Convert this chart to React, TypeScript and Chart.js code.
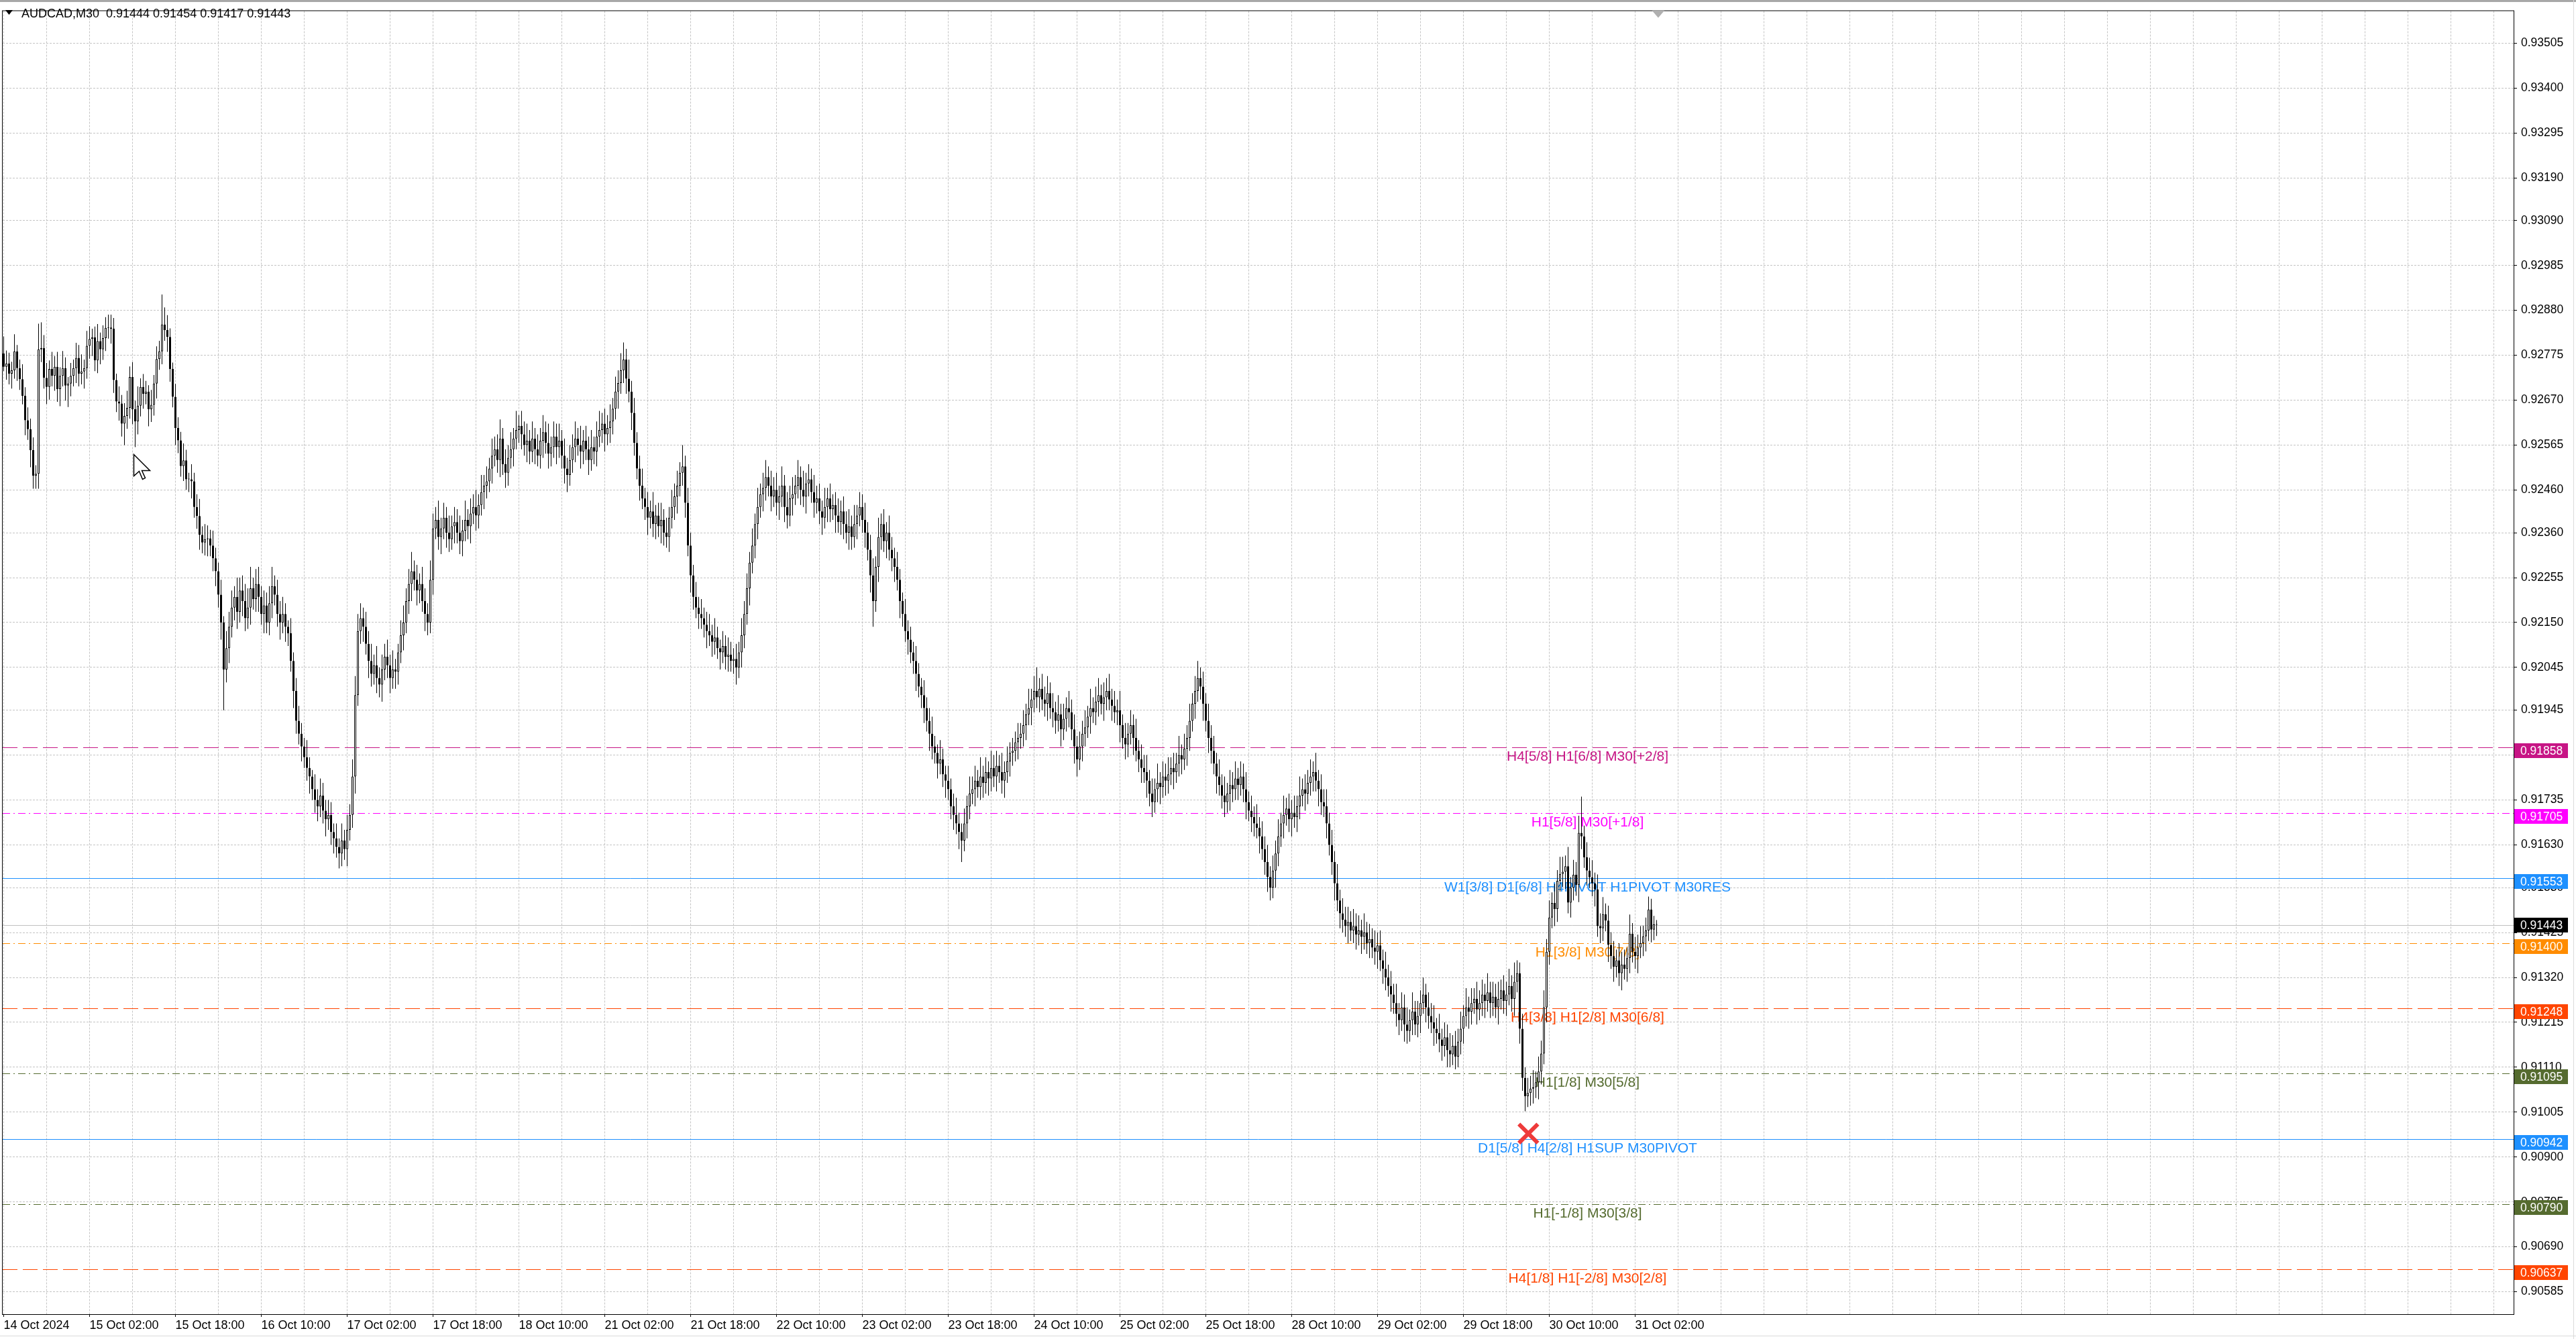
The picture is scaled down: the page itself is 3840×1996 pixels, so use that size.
import React, { useEffect, useRef } from 'react';
import { Chart, registerables } from 'chart.js';

Chart.register(...registerables);

// ---------------- data ----------------
const SYMBOL_LABEL = 'AUDCAD,M30';
// prices are stored as codes: price = 0.9 + code * 0.00001
const PRICE_BASE = 0.9;
const CODE_UNIT = 0.00001;
const PIP = 0.0001;
const firstOpenCode = 2779;

const closeCodes = [
  2748, 2756, 2732, 2740, 2784, 2745, 2719, 2680, 2623, 2602,
  2553, 2493, 2498, 2789, 2792, 2722, 2701, 2743, 2727, 2748,
  2696, 2727, 2745, 2704, 2709, 2727, 2745, 2769, 2732, 2737,
  2745, 2797, 2813, 2817, 2763, 2808, 2789, 2815, 2839, 2840,
  2837, 2717, 2667, 2662, 2615, 2633, 2652, 2724, 2649, 2620,
  2657, 2701, 2685, 2690, 2649, 2659, 2709, 2766, 2784, 2847,
  2834, 2818, 2743, 2678, 2605, 2576, 2516, 2529, 2485, 2485,
  2480, 2420, 2399, 2355, 2337, 2345, 2347, 2330, 2300, 2270,
  2215, 2150, 2040, 2090, 2140, 2185, 2210, 2175, 2225, 2200,
  2160, 2185, 2230, 2205, 2240, 2210, 2170, 2190, 2150, 2195,
  2235, 2215, 2170, 2150, 2170, 2140, 2125, 2060, 1990, 1920,
  1890, 1860, 1835, 1810, 1790, 1760, 1735, 1720, 1745, 1710,
  1690, 1700, 1660, 1645, 1625, 1610, 1640, 1620, 1665, 1700,
  1790, 1980, 2130, 2160, 2140, 2100, 2060, 2030, 2050, 2020,
  2005, 2040, 2070, 2050, 2020, 2040, 2035, 2080, 2120, 2150,
  2200, 2240, 2270, 2250, 2225, 2240, 2200, 2170, 2150, 2250,
  2370, 2390, 2350, 2370, 2395, 2360, 2345, 2375, 2385, 2360,
  2340, 2365, 2390, 2375, 2405, 2420, 2400, 2425, 2455, 2470,
  2480, 2510, 2540, 2555, 2530, 2580, 2520, 2500, 2535, 2555,
  2580, 2600, 2610, 2590, 2565, 2575, 2550, 2580, 2555, 2540,
  2575, 2595, 2570, 2545, 2560, 2585, 2560, 2575, 2540, 2510,
  2495, 2530, 2560, 2580, 2565, 2550, 2575, 2555, 2530, 2560,
  2550, 2585, 2600, 2615, 2590, 2605, 2620, 2650, 2690, 2710,
  2740, 2765, 2720, 2690, 2640, 2570, 2510, 2470, 2440, 2420,
  2395, 2410, 2380, 2400, 2375, 2390, 2360, 2350, 2395, 2420,
  2445, 2470, 2500, 2515, 2430, 2330, 2260, 2210, 2185, 2170,
  2160, 2145, 2130, 2120, 2105, 2115, 2090, 2080, 2095, 2070,
  2075, 2060, 2065, 2045, 2080, 2120, 2170, 2230, 2290, 2330,
  2380, 2420, 2450, 2465, 2490, 2470, 2445, 2460, 2430, 2445,
  2470, 2420, 2400, 2440, 2450, 2470, 2490, 2460, 2445, 2475,
  2485, 2455, 2430, 2440, 2410, 2395, 2420, 2440, 2415, 2425,
  2400, 2385, 2410, 2380, 2360, 2375, 2350, 2380, 2400, 2420,
  2390, 2360, 2320, 2260, 2200, 2280, 2350, 2380, 2340, 2360,
  2320, 2300, 2280, 2250, 2200, 2170, 2130, 2110, 2080, 2060,
  2030, 2000, 1980, 1950, 1920, 1890, 1860, 1845, 1820, 1830,
  1795, 1780, 1760, 1720, 1700, 1680, 1660, 1640, 1680, 1720,
  1750, 1760, 1780, 1765, 1790, 1775, 1800, 1785, 1810, 1790,
  1815, 1800, 1780, 1800, 1825, 1845, 1850, 1870, 1880, 1890,
  1910, 1935, 1950, 1970, 1990, 1975, 1995, 1970, 1960, 1985,
  1950, 1940, 1920, 1935, 1900, 1925, 1950, 1940, 1900, 1860,
  1830, 1860, 1890, 1905, 1930, 1950, 1940, 1965, 1980, 1960,
  1975, 1990, 1970, 1955, 1940, 1945, 1910, 1880, 1865, 1890,
  1910, 1880, 1850, 1830, 1810, 1800, 1780, 1750, 1730, 1760,
  1775, 1765, 1790, 1780, 1795, 1810, 1800, 1820, 1840, 1830,
  1855, 1880, 1920, 1960, 1990, 2020, 2000, 1960, 1920, 1880,
  1850, 1820, 1790, 1770, 1745, 1730, 1750, 1770, 1760, 1785,
  1770, 1790, 1760, 1730, 1710, 1695, 1680, 1670, 1650, 1620,
  1590, 1555, 1530, 1570, 1610, 1650, 1680, 1700, 1715, 1690,
  1705, 1695, 1720, 1745, 1760, 1750, 1775, 1790, 1800, 1780,
  1760, 1730, 1720, 1680, 1630, 1590, 1540, 1500, 1470, 1455,
  1440, 1450, 1430, 1440, 1420, 1430, 1415, 1425, 1400, 1410,
  1390, 1380, 1395, 1360, 1340, 1320, 1300, 1280, 1260, 1235,
  1220, 1250, 1210, 1195, 1220, 1240, 1210, 1230, 1260, 1280,
  1250, 1230, 1215, 1200, 1190, 1175, 1160, 1180, 1150, 1140,
  1160, 1135, 1170, 1200, 1230, 1250, 1240, 1260, 1270, 1245,
  1260, 1280, 1265, 1285, 1260, 1275, 1250, 1270, 1290, 1265,
  1280, 1300, 1270, 1310, 1330, 1200, 1085, 1042, 1050, 1060,
  1063, 1075, 1100, 1142, 1250, 1380, 1460, 1494, 1480, 1546,
  1562, 1567, 1580, 1495, 1530, 1560, 1536, 1658, 1650, 1601,
  1570, 1554, 1540, 1526, 1440, 1435, 1468, 1453, 1396, 1370,
  1345, 1360, 1330, 1350, 1340, 1365, 1422, 1380, 1370, 1390,
  1400, 1416, 1430, 1479, 1432, 1444, 1443,
];

// upper / lower shadow length beyond the body, in pips
const wickUpPips = [
  4, 3, 2.5, 2, 4, 1.5, 2, 3.5, 2, 3, 2.5, 3, 2, 6, 6, 3, 3.5, 2, 4, 2.5,
  3.5, 2, 4, 2.5, 1.5, 3, 2, 3.5, 3, 4, 2, 3.5, 3, 2, 2.5, 4, 2, 3, 2.5, 3,
  3, 2.5, 1.5, 3.5, 2, 3, 4, 2.5, 3.5, 2, 4.5, 2, 3, 2.5, 1.5, 3.5, 2, 3, 2.5, 7,
  4, 3.5, 2, 1.5, 3, 2.5, 2, 4, 2.5, 1.5, 3.5, 2, 3, 4, 2, 3.5, 3, 2, 3.5, 2.5,
  2, 3.5, 1.5, 4, 3.5, 4, 2.5, 4.5, 3, 3.5, 4, 4.5, 5, 2.5, 3.5, 4, 2.5, 3.5, 3, 4,
  4.5, 2.5, 3.5, 3, 4, 2.5, 1.5, 3.5, 2, 3, 3.5, 2.5, 2, 4, 2.5, 1.5, 3.5, 2.5, 4, 3,
  2.5, 3.5, 3, 2, 3.5, 2, 4, 2.5, 3.5, 2.5, 4, 4.5, 4, 3.5, 2.5, 3.5, 3, 4, 2.5, 4.5,
  2.5, 3.5, 3, 4, 2.5, 4.5, 2.5, 2, 3.5, 4, 3, 3.5, 4.5, 2.5, 3.5, 2.5, 4, 3, 2.5, 4.5,
  3.5, 3, 4.5, 2.5, 3.5, 2.5, 4, 2.5, 3.5, 3, 4, 2.5, 4.5, 2.5, 3.5, 3, 4, 2.5, 4, 2.5,
  3.5, 2.5, 4, 3, 3.5, 4.5, 2.5, 3.5, 3, 4, 2.5, 4.5, 2.5, 3.5, 3, 4, 2.5, 4, 2.5, 3.5,
  3, 4, 2.5, 4.5, 2.5, 3.5, 3, 4, 2.5, 4, 2.5, 3.5, 3, 4, 2.5, 4.5, 2.5, 3.5, 3, 4,
  2.5, 3.5, 4.5, 2.5, 3.5, 3, 4, 2.5, 3.5, 3, 4, 4, 2.5, 4.5, 2.5, 3.5, 2.5, 3, 4, 2.5,
  3.5, 2.5, 4.5, 2.5, 3, 4, 2.5, 3.5, 2.5, 4, 3, 3.5, 2.5, 5, 2.5, 3.5, 3, 2.5, 3.5, 2.5,
  3.5, 2.5, 3, 4, 2.5, 4.5, 2.5, 2, 3.5, 2.5, 4, 3, 2.5, 3.5, 2.5, 4, 3, 3.5, 2.5, 4,
  2.5, 4.5, 2.5, 3.5, 4, 2.5, 3.5, 3, 4, 2.5, 4.5, 2.5, 3.5, 3, 4, 2.5, 4, 2.5, 4.5, 2.5,
  3.5, 2.5, 4, 3, 3.5, 2.5, 4.5, 2.5, 3.5, 2.5, 3, 4, 2.5, 3.5, 3, 4, 2.5, 4.5, 2.5, 3.5,
  3, 4, 2.5, 3.5, 4, 2.5, 4.5, 2.5, 3.5, 2.5, 4, 3, 2.5, 3.5, 2.5, 2, 3.5, 2.5, 3, 2.5,
  3.5, 2.5, 2, 3.5, 2.5, 3, 4, 2.5, 2, 4.5, 2.5, 2, 3.5, 2.5, 3, 4, 2.5, 2, 3.5, 2.5,
  4, 3, 3.5, 2.5, 4.5, 2.5, 3.5, 2.5, 4, 3, 3.5, 2.5, 4.5, 2.5, 3.5, 2.5, 3, 2.5, 3.5, 2.5,
  3.5, 2.5, 4.5, 2.5, 3.5, 5.5, 2.5, 3.5, 3, 4, 2.5, 3.5, 2.5, 4.5, 2.5, 3.5, 2.5, 4, 3, 3.5,
  2.5, 3.5, 3, 4, 2.5, 4.5, 2.5, 3.5, 4, 2.5, 3.5, 3, 4, 2.5, 3.5, 2.5, 4.5, 2.5, 3.5, 2.5,
  3.5, 2.5, 4.5, 2.5, 3.5, 3, 4, 2.5, 3.5, 2.5, 4.5, 2.5, 3.5, 3, 4, 2.5, 3.5, 2.5, 4.5, 2.5,
  3.5, 3, 4, 2.5, 3.5, 4, 2.5, 3.5, 2.5, 4, 3, 3.5, 2.5, 4, 2.5, 4.5, 2.5, 3.5, 3, 4,
  2.5, 3.5, 3, 4, 2.5, 3.5, 2.5, 4.5, 2.5, 3.5, 3, 4, 2.5, 3.5, 3, 4, 2.5, 4.5, 2.5, 3.5,
  3, 4, 2.5, 4.5, 2.5, 3.5, 3, 4, 2.5, 4.5, 2.5, 3.5, 3, 4, 2.5, 3.5, 2.5, 4.5, 2.5, 3.5,
  3, 3.5, 2.5, 4, 3, 3.5, 2.5, 4.5, 2.5, 3.5, 2.5, 4, 3, 3.5, 2.5, 4, 3, 3.5, 2.5, 4.5,
  2.5, 3.5, 3, 4, 2.5, 4.5, 2.5, 3.5, 3, 4, 2.5, 3.5, 3, 4, 2.5, 4.5, 2.5, 3.5, 3, 4,
  2.5, 3.5, 3, 4, 2.5, 4.5, 2.5, 3.5, 2.5, 4, 3, 3.5, 2.5, 4.5, 2.5, 3.5, 3, 4, 2.5, 3.5,
  3, 4, 2.5, 4.5, 3, 2.5, 3.5, 2.5, 3.5, 3, 4, 2.5, 3.5, 3, 4, 3, 4, 2.5, 4.5, 2.5,
  4, 3.5, 2.5, 4.5, 2.5, 3.5, 3, 4, 8.5, 2.5, 3.5, 3, 4, 2.5, 3.5, 3, 4, 2.5, 3.5, 3,
  3.5, 2.5, 4, 3, 3.5, 2.5, 4.5, 2.5, 3.5, 3, 4, 2.5, 3, 3, 2.5, 2, 1,
];

const wickDownPips = [
  1, 3, 2.5, 3.5, 2, 3, 2.5, 2, 3.5, 2.5, 4, 3, 3, 3.5, 3, 2.5, 4, 3, 2.5, 3.5,
  3, 4, 2.5, 3.5, 5, 3, 2.5, 3.5, 3, 2.5, 4, 2.5, 3, 4, 2.5, 3, 3.5, 2.5, 3, 2.5,
  3.5, 3, 2.5, 4, 3, 5, 3, 2.5, 3.5, 6, 3, 2.5, 3.5, 2.5, 4, 3, 2.5, 3.5, 2.5, 3,
  2.5, 3.5, 3, 2.5, 4, 3, 2.5, 3.5, 2.5, 3, 4, 2.5, 3, 3.5, 2.5, 3, 4, 2.5, 3, 3.5,
  3, 4, 9.5, 3, 3.5, 2.5, 3, 4, 2.5, 3.5, 3, 2.5, 4, 2.5, 3, 3.5, 2.5, 4.5, 2.5, 3,
  3.5, 2.5, 3, 4, 2.5, 3.5, 3, 2.5, 4, 3, 2.5, 3.5, 2.5, 3, 4, 2.5, 3, 3.5, 2.5, 3,
  4, 2.5, 3, 3.5, 2.5, 3.5, 3, 2.5, 4, 2.5, 3, 4, 2.5, 3, 3.5, 2.5, 4, 3, 2.5, 3.5,
  3, 4, 2.5, 3, 3.5, 2.5, 4, 3, 2.5, 3.5, 2.5, 3, 4, 2.5, 3.5, 3, 2.5, 4, 3, 2.5,
  3.5, 2.5, 3, 4, 2.5, 3.5, 3, 2.5, 4, 2.5, 3, 3.5, 2.5, 3, 4, 2.5, 3.5, 3, 2.5, 4,
  3, 2.5, 3.5, 2.5, 3, 4, 2.5, 3.5, 3, 2.5, 4, 2.5, 3, 3.5, 2.5, 4, 3, 2.5, 3.5, 2.5,
  3, 4, 2.5, 3.5, 3, 2.5, 4, 2.5, 3, 3.5, 4, 2.5, 3, 3.5, 2.5, 4, 3, 2.5, 3.5, 2.5,
  3, 3.5, 2.5, 3, 4, 2.5, 3.5, 3, 2.5, 4, 2.5, 3, 3.5, 2.5, 4, 3, 2.5, 3.5, 2.5, 3,
  4, 2.5, 3, 3.5, 2.5, 4, 3, 2.5, 3.5, 2.5, 3, 4, 2.5, 3, 3.5, 2.5, 4, 3, 2.5, 3.5,
  2.5, 3, 4, 2.5, 3.5, 3, 2.5, 4, 2.5, 3, 3.5, 2.5, 3, 4, 2.5, 3.5, 3, 2.5, 4, 2.5,
  3, 3.5, 2.5, 4, 3, 2.5, 3.5, 2.5, 3, 4, 2.5, 3.5, 3, 2.5, 4, 2.5, 3, 3.5, 2.5, 4,
  3, 2.5, 3.5, 2.5, 3, 4, 2.5, 3.5, 3, 2.5, 4, 2.5, 3, 3.5, 2.5, 4, 3, 2.5, 3.5, 2.5,
  3, 3.5, 2.5, 4, 6, 2.5, 3.5, 3, 2.5, 4, 2.5, 3, 3.5, 2.5, 4, 3, 2.5, 3.5, 2.5, 3,
  4, 2.5, 3, 3.5, 2.5, 4, 3, 2.5, 3.5, 2.5, 3, 4, 2.5, 3, 3.5, 2.5, 4, 5, 2.5, 3.5,
  3, 2.5, 4, 2.5, 3, 3.5, 2.5, 4, 3, 2.5, 3.5, 2.5, 3, 4, 2.5, 3.5, 3, 2.5, 4, 2.5,
  3, 3.5, 2.5, 4, 3, 2.5, 3.5, 2.5, 3, 4, 2.5, 3.5, 3, 2.5, 4, 2.5, 3, 3.5, 2.5, 4,
  4, 2.5, 3.5, 3, 2.5, 4, 2.5, 3, 3.5, 2.5, 4, 3, 2.5, 3.5, 2.5, 3, 4, 2.5, 3.5, 3,
  2.5, 4, 2.5, 3, 3.5, 2.5, 4, 3, 3.5, 2.5, 3, 4, 2.5, 3.5, 3, 2.5, 4, 2.5, 3, 3.5,
  2.5, 4, 3, 2.5, 3.5, 2.5, 3, 4, 2.5, 3.5, 3, 2.5, 4, 2.5, 3, 3.5, 2.5, 4, 3, 2.5,
  3.5, 2.5, 3, 4, 2.5, 3.5, 3, 2.5, 4, 2.5, 3, 3.5, 3, 2.5, 4, 3, 2.5, 3.5, 2.5, 3,
  4, 2.5, 3.5, 3, 2.5, 4, 2.5, 3, 3.5, 2.5, 4, 3, 2.5, 3.5, 2.5, 3, 4, 2.5, 3.5, 3,
  2.5, 4, 2.5, 3, 3.5, 2.5, 4, 3, 2.5, 3.5, 2.5, 3, 4, 2.5, 3.5, 3, 2.5, 4, 2.5, 3,
  3.5, 2.5, 4, 3, 2.5, 3.5, 2.5, 3, 4, 2.5, 3.5, 3, 2.5, 4, 2.5, 3, 3.5, 2.5, 4, 3,
  2.5, 3, 2.5, 3, 3.5, 2.5, 4, 3, 2.5, 3.5, 2.5, 3, 4, 2.5, 3.5, 3, 2.5, 4, 2.5, 3,
  3.5, 2.5, 3, 4, 2.5, 3.5, 3, 3.5, 2.5, 3, 3.5, 2.5, 4, 3, 2.5, 3.5, 3, 2.5, 4, 3,
  2.5, 3, 4, 2.5, 3.5, 3, 2.5, 4, 3, 2.5, 3.5, 2.5, 3, 4, 2.5, 3.5, 3, 2.5, 4, 3,
  3.5, 2.5, 3, 4, 2.5, 3, 3.5, 2.5, 3, 4, 2.5, 3, 3.5, 2.5, 3, 2.5, 2.6,
];

const xLabels = [
  '14 Oct 2024', '15 Oct 02:00', '15 Oct 18:00', '16 Oct 10:00', '17 Oct 02:00',
  '17 Oct 18:00', '18 Oct 10:00', '21 Oct 02:00', '21 Oct 18:00', '22 Oct 10:00',
  '23 Oct 02:00', '23 Oct 18:00', '24 Oct 10:00', '25 Oct 02:00', '25 Oct 18:00',
  '28 Oct 10:00', '29 Oct 02:00', '29 Oct 18:00', '30 Oct 10:00', '31 Oct 02:00',
];
const BARS_PER_LABEL = 32;
const BARS_PER_GRID = 16;
const TOTAL_SLOTS = 936;

const yTickValues = [
  0.90585, 0.9069, 0.90795, 0.909, 0.91005, 0.9111, 0.91215, 0.9132, 0.91425,
  0.9153, 0.9163, 0.91735, 0.9184, 0.91945, 0.92045, 0.9215, 0.92255, 0.9236,
  0.9246, 0.92565, 0.9267, 0.92775, 0.9288, 0.92985, 0.9309, 0.9319, 0.93295,
  0.934, 0.93505,
];

const levelPrices = [0.91858, 0.91705, 0.91553, 0.914, 0.91248, 0.91095, 0.90942, 0.9079, 0.90637];
const levelNames = [
  'H4[5/8] H1[6/8] M30[+2/8]',
  'H1[5/8] M30[+1/8]',
  'W1[3/8] D1[6/8] H4PIVOT H1PIVOT M30RES',
  'H1[3/8] M30[7/8]',
  'H4[3/8] H1[2/8] M30[6/8]',
  'H1[1/8] M30[5/8]',
  'D1[5/8] H4[2/8] H1SUP M30PIVOT',
  'H1[-1/8] M30[3/8]',
  'H4[1/8] H1[-2/8] M30[2/8]',
];
const levelLabelBar = 590.25;
const crossMark = { bar: 568.2, price: 0.90955 };
const cursorAt = { bar: 48.4, price: 0.92544 };
const shiftMarkerBar = 616.6;

// ---------------- styles ----------------
const LONG_DASH = [22, 8];
const DASH_DOT = [11, 5, 2, 5];
const levelStyles = [
  { color: '#C71585', dash: LONG_DASH },
  { color: '#FF00FF', dash: DASH_DOT },
  { color: '#1E90FF', dash: [] as number[] },
  { color: '#FF8C00', dash: DASH_DOT },
  { color: '#FF4500', dash: LONG_DASH },
  { color: '#556B2F', dash: DASH_DOT },
  { color: '#1E90FF', dash: [] as number[] },
  { color: '#556B2F', dash: DASH_DOT },
  { color: '#FF4500', dash: LONG_DASH },
];
const GRID_COLOR = '#C4C4C4';
const FONT_FAMILY = '"Liberation Sans", Arial, sans-serif';
const W = 3840;
const H = 1996;

// ---------------- derived candles ----------------
const nBars = Math.min(closeCodes.length, wickUpPips.length, wickDownPips.length);
const toPrice = (code: number) => +(PRICE_BASE + code * CODE_UNIT).toFixed(5);
type Candle = { open: number; high: number; low: number; close: number };
const candles: Candle[] = [];
for (let i = 0; i < nBars; i++) {
  const open = toPrice(i === 0 ? firstOpenCode : closeCodes[i - 1]);
  const close = toPrice(closeCodes[i]);
  const high = +(Math.max(open, close) + wickUpPips[i] * PIP).toFixed(5);
  const low = +(Math.min(open, close) - wickDownPips[i] * PIP).toFixed(5);
  candles.push({ open, high, low, close });
}
const last = candles[candles.length - 1];

const gridBars: number[] = [];
for (let b = 0; b < TOTAL_SLOTS; b += BARS_PER_GRID) gridBars.push(b);
const labelFor = (v: number) => {
  if (v % BARS_PER_LABEL !== 0) return '';
  return xLabels[v / BARS_PER_LABEL] ?? '';
};

const overlayPlugin = {
  id: 'mtOverlay',
  beforeDatasetsDraw(chart: any) {
    const { ctx, chartArea: a, scales } = chart;
    const x = scales.x;
    const y = scales.y;
    ctx.save();
    ctx.beginPath();
    ctx.rect(a.left, a.top, a.right - a.left, a.bottom - a.top);
    ctx.clip();
    ctx.lineWidth = 1;
    const yc = Math.round(y.getPixelForValue(last.close)) + 0.5;
    ctx.setLineDash([]);
    ctx.strokeStyle = '#C0C0C0';
    ctx.beginPath();
    ctx.moveTo(a.left, yc);
    ctx.lineTo(a.right, yc);
    ctx.stroke();
    levelPrices.forEach((p, k) => {
      const st = levelStyles[k];
      const yy = Math.round(y.getPixelForValue(p)) + 0.5;
      ctx.strokeStyle = st.color;
      ctx.setLineDash(st.dash);
      ctx.beginPath();
      ctx.moveTo(a.left, yy);
      ctx.lineTo(a.right, yy);
      ctx.stroke();
    });
    ctx.setLineDash([]);
    ctx.font = `21px ${FONT_FAMILY}`;
    ctx.textAlign = 'center';
    ctx.textBaseline = 'alphabetic';
    const lx = x.getPixelForValue(levelLabelBar);
    levelPrices.forEach((p, k) => {
      ctx.fillStyle = levelStyles[k].color;
      ctx.fillText(levelNames[k], lx, Math.round(y.getPixelForValue(p)) + 20);
    });
    ctx.restore();
  },
  afterDraw(chart: any) {
    const { ctx, chartArea: a, scales } = chart;
    const x = scales.x;
    const y = scales.y;
    ctx.save();
    ctx.fillStyle = '#A8A8A8';
    ctx.fillRect(0, 0, W, 3);
    ctx.fillStyle = '#DADADA';
    ctx.fillRect(W - 4, 0, 1, H);
    ctx.fillRect(0, H - 5, W, 1);
    ctx.strokeStyle = '#000';
    ctx.lineWidth = 1;
    ctx.setLineDash([]);
    ctx.strokeRect(a.left - 0.5, a.top - 0.5, a.right - a.left + 1, a.bottom - a.top + 1);
    const boxX = a.right + 1;
    const boxW = 80;
    const boxH = 22;
    ctx.font = `17.5px ${FONT_FAMILY}`;
    ctx.textAlign = 'left';
    ctx.textBaseline = 'middle';
    levelPrices.forEach((p, k) => {
      const cy = Math.round(y.getPixelForValue(p)) + 5;
      ctx.fillStyle = levelStyles[k].color;
      ctx.fillRect(boxX, cy - boxH / 2, boxW, boxH);
      ctx.fillStyle = '#FFFFFF';
      ctx.fillText(p.toFixed(5), a.right + 10, cy + 1);
    });
    {
      const cy = Math.round(y.getPixelForValue(last.close));
      ctx.fillStyle = '#000000';
      ctx.fillRect(boxX, cy - boxH / 2, boxW, boxH);
      ctx.fillStyle = '#FFFFFF';
      ctx.fillText(last.close.toFixed(5), a.right + 10, cy + 1);
    }
    ctx.fillStyle = '#000';
    ctx.beginPath();
    ctx.moveTo(8, 15);
    ctx.lineTo(19, 15);
    ctx.lineTo(13.5, 22);
    ctx.closePath();
    ctx.fill();
    ctx.font = `18px ${FONT_FAMILY}`;
    ctx.textAlign = 'left';
    ctx.textBaseline = 'alphabetic';
    ctx.fillText(
      `${SYMBOL_LABEL}  ${last.open.toFixed(5)} ${last.high.toFixed(5)} ${last.low.toFixed(5)} ${last.close.toFixed(5)}`,
      32,
      26,
    );
    const sx = x.getPixelForValue(shiftMarkerBar);
    ctx.fillStyle = '#B0B0B0';
    ctx.beginPath();
    ctx.moveTo(sx - 9.5, a.top - 1);
    ctx.lineTo(sx + 9.5, a.top - 1);
    ctx.lineTo(sx, a.top + 10);
    ctx.closePath();
    ctx.fill();
    const cx = Math.round(x.getPixelForValue(cursorAt.bar)) + 0.5;
    const cyy = Math.round(y.getPixelForValue(cursorAt.price)) + 0.5;
    const pts = [[0, 0], [0, 32], [8, 25], [13, 37], [17, 35], [12, 24], [24, 24]];
    ctx.beginPath();
    pts.forEach(([px, py], i) => (i ? ctx.lineTo(cx + px, cyy + py) : ctx.moveTo(cx + px, cyy + py)));
    ctx.closePath();
    ctx.fillStyle = '#FFFFFF';
    ctx.fill();
    ctx.strokeStyle = '#000';
    ctx.lineWidth = 1.5;
    ctx.stroke();
    ctx.restore();
  },
};

export default function App() {
  const ref = useRef<HTMLCanvasElement>(null);
  useEffect(() => {
    const canvas = ref.current;
    if (!canvas) return;
    const chart = new Chart(canvas, {
      type: 'bar',
      data: {
        datasets: [
          {
            type: 'scatter',
            label: 'marker',
            data: [{ x: crossMark.bar, y: crossMark.price }],
            pointStyle: 'crossRot',
            pointRadius: 20,
            pointBorderWidth: 6,
            pointBorderColor: '#EE3B3B',
            pointBackgroundColor: '#EE3B3B',
            order: -1,
          } as any,
          {
            type: 'bar',
            label: 'bodies',
            data: candles.map((c, i) => ({ x: i, y: [c.open, c.close] })),
            backgroundColor: (ctx: any) => {
              const c = candles[ctx.dataIndex];
              return c && c.close > c.open ? '#FFFFFF' : '#000000';
            },
            borderColor: '#000000',
            borderWidth: 1,
            borderSkipped: false,
            barThickness: 3,
            minBarLength: 1,
            grouped: false,
            inflateAmount: 0,
            order: 0,
          } as any,
          {
            type: 'bar',
            label: 'wicks',
            data: candles.map((c, i) => ({ x: i, y: [c.low, c.high] })),
            backgroundColor: '#000000',
            borderWidth: 0,
            barThickness: 1,
            grouped: false,
            inflateAmount: 0,
            order: 1,
          } as any,
        ],
      },
      options: {
        responsive: false,
        devicePixelRatio: 1,
        animation: false,
        events: [],
        layout: { autoPadding: false, padding: { left: 4, top: 5, right: 0, bottom: 0 } },
        plugins: { legend: { display: false }, tooltip: { enabled: false }, title: { display: false } },
        scales: {
          x: {
            type: 'linear',
            position: 'bottom',
            min: -0.375,
            max: TOTAL_SLOTS - 0.625,
            offset: false,
            afterBuildTicks: (s: any) => {
              s.ticks = gridBars.map((v) => ({ value: v }));
            },
            afterFit: (s: any) => {
              s.height = 37;
            },
            grid: {
              color: GRID_COLOR,
              lineWidth: 1,
              offset: false,
              drawTicks: true,
              tickLength: 4,
              tickWidth: 1,
              tickColor: (c: any) => (c.tick && labelFor(c.tick.value) ? '#000000' : 'rgba(0,0,0,0)'),
            },
            border: { display: false, dash: [3, 2] },
            ticks: {
              autoSkip: false,
              maxRotation: 0,
              minRotation: 0,
              align: 'start',
              padding: 2,
              color: '#000000',
              font: { family: FONT_FAMILY, size: 18 },
              callback: (v: any) => labelFor(Number(v)),
            },
          } as any,
          y: {
            type: 'linear',
            position: 'right',
            min: 0.905325,
            max: 0.935799,
            afterBuildTicks: (s: any) => {
              s.ticks = yTickValues.map((v) => ({ value: v }));
            },
            afterFit: (s: any) => {
              s.width = 93;
            },
            grid: {
              color: GRID_COLOR,
              lineWidth: 1,
              drawTicks: true,
              tickLength: 5,
              tickWidth: 1,
              tickColor: '#000000',
            },
            border: { display: false, dash: [3, 2] },
            ticks: {
              autoSkip: false,
              padding: 6,
              color: '#000000',
              font: { family: FONT_FAMILY, size: 17.5 },
              callback: (v: any) => Number(v).toFixed(5),
            },
          } as any,
        },
      },
      plugins: [overlayPlugin],
    } as any);
    return () => chart.destroy();
  }, []);
  return (
    <div style={{ position: 'fixed', left: 0, top: 0, width: W, height: H, background: '#FFFFFF' }}>
      <canvas ref={ref} width={W} height={H} style={{ display: 'block', width: W, height: H }} />
    </div>
  );
}
